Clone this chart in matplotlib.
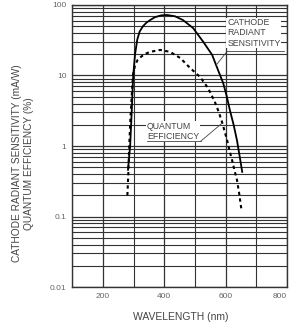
import matplotlib
matplotlib.use("Agg")
import matplotlib.pyplot as plt
from matplotlib.ticker import FixedLocator, NullFormatter

plt.rcParams['font.family'] = ['Liberation Sans', 'DejaVu Sans']

# cathode radiant sensitivity (mA/W), solid curve
wl_sens = [282, 285, 289, 294, 299, 305, 312, 320, 331, 342, 354, 370, 390, 409, 435,
           461, 494, 527, 556, 575, 592, 603, 614, 626, 637, 646, 654]
sens = [0.46, 0.65, 1.0, 3, 10, 20, 32, 42, 50, 56, 61, 67, 71, 72, 69,
        61, 47, 30, 19.6, 12, 7.8, 5.2, 3.2, 2.0, 1.2, 0.7, 0.43]

# quantum efficiency (%), dashed curve
wl_qe = [280, 283, 286, 290, 294, 298, 305, 313, 322, 335, 354, 387, 419, 452, 484,
         517, 543, 566, 578, 588, 597, 605, 613, 621, 629, 637, 645, 652]
qe = [0.2, 0.4, 1.0, 2.5, 5, 10, 14, 16.5, 18, 20, 21.6, 23, 21.6, 17.7, 12.8,
      9.5, 6.6, 4.1, 3, 2.2, 1.6, 1.2, 0.85, 0.63, 0.45, 0.33, 0.2, 0.12]

x_ticks = [200, 400, 600, 800]
y_ticks = [0.01, 0.1, 1, 10, 100]
y_labels = ['0.01', '0.1', '1', '10', '100']

fig = plt.figure(figsize=(2.92, 3.27), dpi=100)
ax = fig.add_axes([0.247, 0.122, 0.736, 0.863])

ax.set_yscale('log')
ax.set_xlim(100, 800)
ax.set_ylim(0.01, 100)

ax.plot(wl_sens, sens, color='black', lw=1.3, zorder=3)
ax.plot(wl_qe, qe, color='black', lw=1.5, linestyle=(0, (1.6, 1.6)), zorder=3)

# grid
ax.xaxis.set_major_locator(FixedLocator(x_ticks))
ax.xaxis.set_minor_locator(FixedLocator([100, 300, 500, 700]))
minors = [m * 10.0 ** e for e in range(-2, 2) for m in range(2, 10)]
ax.yaxis.set_major_locator(FixedLocator(y_ticks))
ax.yaxis.set_minor_locator(FixedLocator(minors))
ax.yaxis.set_minor_formatter(NullFormatter())
ax.set_yticklabels(y_labels)
ax.grid(which='major', color='#333333', lw=0.9)
ax.grid(which='minor', color='#333333', lw=0.8)
ax.tick_params(which='both', length=0, labelsize=6, labelcolor='#666666', pad=4)
for s in ax.spines.values():
    s.set_color('#333333')
    s.set_linewidth(1.0)
# keep the last x label inside the figure
ax.get_xticklabels()[-1].set_horizontalalignment('right')

# annotations
tc = '#444444'
box = dict(facecolor='white', edgecolor='none', pad=0.6)
ax.text(605, 40, 'CATHODE\nRADIANT\nSENSITIVITY', fontsize=6.3, color=tc,
        ha='left', va='center', linespacing=1.15, bbox=box, zorder=4)
ax.plot([605, 790], [22, 22], color=tc, lw=0.6, zorder=5)
ax.plot([605, 569], [22, 14], color=tc, lw=0.6, zorder=5)

ax.text(344, 1.62, 'QUANTUM\nEFFICIENCY', fontsize=6.3, color=tc,
        ha='left', va='center', linespacing=1.15, bbox=box, zorder=4)
ax.plot([344, 520], [1.18, 1.18], color=tc, lw=0.6, zorder=5)
ax.plot([520, 588], [1.18, 2.1], color=tc, lw=0.6, zorder=5)

fig.text(0.62, 0.031, 'WAVELENGTH (nm)', fontsize=7.5, color=tc,
         ha='center', va='center')
fig.text(0.079, 0.50, 'CATHODE RADIANT SENSITIVITY (mA/W)\nQUANTUM EFFICIENCY (%)',
         fontsize=7.3, color=tc, rotation=90, ha='center', va='center',
         multialignment='center', linespacing=1.2)

fig.savefig('out.png', dpi=100)
